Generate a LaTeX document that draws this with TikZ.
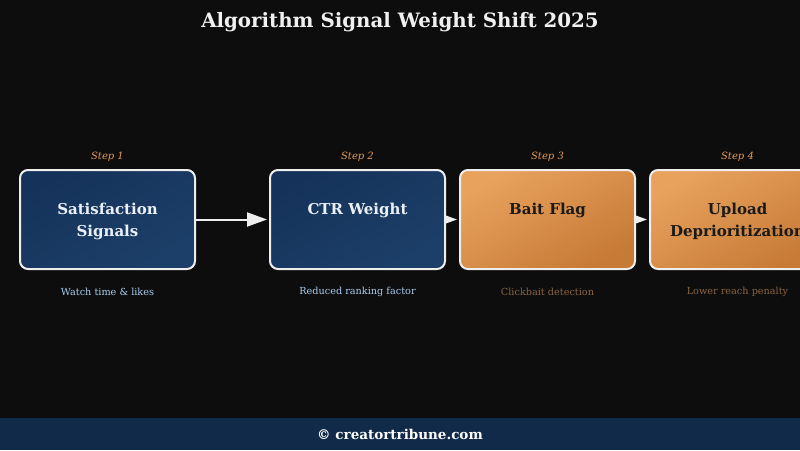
\documentclass[tikz,border=0pt]{standalone}
\usepackage{fontspec}
\setmainfont{DejaVu Serif}
\usetikzlibrary{arrows.meta,shadings}
\pgfdeclarelayer{back}
\pgfdeclarelayer{bg}
\pgfsetlayers{back,bg,main}
\definecolor{pagebg}{HTML}{0D0D0D}
\definecolor{footbg}{HTML}{112A4A}
\definecolor{bluetl}{HTML}{15335A}
\definecolor{bluebr}{HTML}{1C3F69}
\definecolor{orangetl}{HTML}{E8A25E}
\definecolor{orangebr}{HTML}{C67A35}
\definecolor{edge}{HTML}{EEEEEE}
\definecolor{steporange}{HTML}{E89A55}
\definecolor{subblue}{HTML}{A9CDF0}
\definecolor{subbrown}{HTML}{8A6440}
\definecolor{titlecol}{HTML}{F0F0F0}
\definecolor{darktext}{HTML}{1A1A1A}
\definecolor{lighttext}{HTML}{EAF0F6}
\begin{document}
\begin{tikzpicture}[x=1pt,y=-1pt,
  box/.style={draw=edge, line width=2pt, rounded corners=8pt,
    minimum width=175pt, minimum height=99pt, inner sep=0pt},
  bluebox/.style={box, top color=bluetl, bottom color=bluebr, shading angle=30},
  orangebox/.style={box, top color=orangetl, bottom color=orangebr, shading angle=30},
  boxtext/.style={align=center, inner sep=0pt, font=\fontsize{15}{22}\selectfont\bfseries, yshift=-2pt},
  steplbl/.style={font=\fontsize{10}{12}\selectfont\itshape, text=steporange, inner sep=0pt},
  sublbl/.style={font=\fontsize{9.7}{12}\selectfont, inner sep=0pt},
  flow/.style={draw=edge, line width=2pt, -{Triangle[length=20pt,width=14pt]}, shorten >=2pt}
]
\useasboundingbox (0,0) rectangle (800,450);
\begin{pgfonlayer}{back}
\fill[pagebg] (0,0) rectangle (800,450);
\fill[footbg] (0,418) rectangle (800,450);
\end{pgfonlayer}
\node[font=\fontsize{19.8}{24}\selectfont\bfseries, text=titlecol] (title) at (400,22) {Algorithm Signal Weight Shift 2025};
\node[font=\fontsize{13.5}{16}\selectfont\bfseries, text=white] (foot) at (400,434) {© creatortribune.com};

\node[bluebox] (b1) at (107.5,219.5) {};
\node[bluebox] (b2) at (357.5,219.5) {};
\node[orangebox] (b3) at (547.5,219.5) {};
\node[orangebox] (b4) at (737.5,219.5) {};

\node[boxtext, text=lighttext] (t1) at (b1.center) {Satisfaction\\Signals};
\node[boxtext, text=lighttext] (t2) at (b2.center) {CTR Weight\\\phantom{Signals}};
\node[boxtext, text=darktext] (t3) at (b3.center) {Bait Flag\\\phantom{Signals}};
\node[boxtext, text=darktext] (t4) at (b4.center) {Upload\\Deprioritization};

\node[steplbl] (s1) at (107.5,157) {Step 1};
\node[steplbl] (s2) at (357.5,157) {Step 2};
\node[steplbl] (s3) at (547.5,157) {Step 3};
\node[steplbl] (s4) at (737.5,157) {Step 4};

\node[sublbl, text=subblue] (d1) at (107.5,292) {Watch time \& likes};
\node[sublbl, text=subblue] (d2) at (357.5,292) {Reduced ranking factor};
\node[sublbl, text=subbrown] (d3) at (547.5,292) {Clickbait detection};
\node[sublbl, text=subbrown] (d4) at (737.5,292) {Lower reach penalty};

\begin{pgfonlayer}{bg}
\draw[flow] (b1.east) -- (b2.west);
\draw[flow] (b2.east) -- (b3.west);
\draw[flow] (b3.east) -- (b4.west);
\end{pgfonlayer}
\end{tikzpicture}
\end{document}
